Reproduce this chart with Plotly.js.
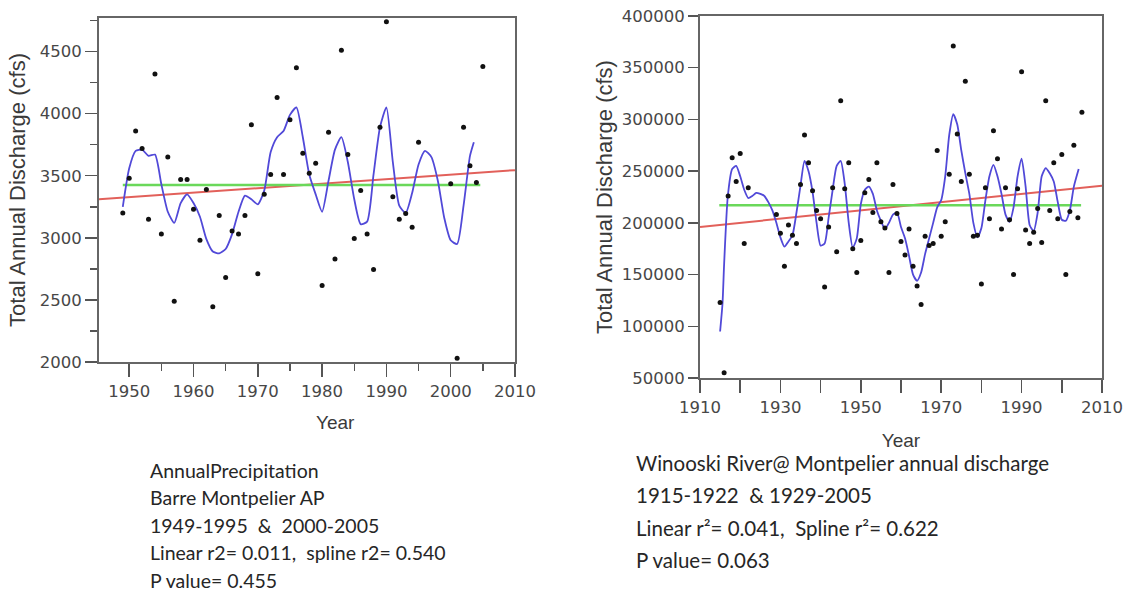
<!DOCTYPE html>
<html>
<head>
<meta charset="utf-8">
<script src="https://cdn.plot.ly/plotly-3.0.1.min.js"></script>
<style>html,body{margin:0;padding:0;background:#fff;}#chart{width:1127px;height:592px;}</style>
</head>
<body>
<div id="chart"></div>
<script>
// ---------- Left chart: Annual Precipitation, Barre Montpelier AP ----------
const precipYears = [1949,1950,1951,1952,1953,1954,1955,1956,1957,1958,1959,1960,1961,1962,1963,1964,1965,1966,1967,1968,1969,1970,1971,1972,1973,1974,1975,1976,1977,1978,1979,1980,1981,1982,1983,1984,1985,1986,1987,1988,1989,1990,1991,1992,1993,1994,1995,2000,2001,2002,2003,2004,2005];
const precipValues = [3200,3480,3860,3720,3150,4320,3030,3650,2490,3470,3470,3230,2980,3390,2445,3180,2680,3055,3030,3180,3910,2710,3350,3510,4130,3510,3950,4370,3680,3520,3600,2615,3850,2830,4510,3670,2995,3380,3030,2745,3890,4740,3330,3150,3195,3085,3770,3435,2030,3890,3580,3445,4380];
const precipSplineX = [1949,1950,1951,1952,1953,1954,1955,1956,1957,1958,1959,1960,1961,1962,1963,1964,1965,1966,1967,1968,1969,1970,1971,1972,1973,1974,1975,1976,1977,1978,1979,1980,1981,1982,1983,1984,1985,1986,1987,1988,1989,1990,1991,1992,1993,1994,1995,1996,1997,1998,1999,2000,2001,2002,2003,2003.6];
const precipSplineY = [3250,3560,3700,3710,3660,3670,3430,3210,3120,3280,3350,3280,3170,2990,2890,2875,2910,3030,3210,3340,3310,3270,3380,3690,3810,3860,3990,4050,3810,3510,3350,3210,3460,3710,3810,3610,3310,3110,3130,3510,3890,4050,3610,3260,3200,3360,3590,3700,3650,3460,3160,2980,2950,3260,3660,3770];
const precipTrendX = [1945.3, 2010];
const precipTrendY = [3310, 3545];
const precipMeanX = [1949, 2004.6];
const precipMeanY = [3425, 3425];
const precipXTicks = [1950,1960,1970,1980,1990,2000,2010];
const precipYTicks = [2000,2500,3000,3500,4000,4500];

// ---------- Right chart: Winooski River @ Montpelier ----------
const flowYears = [1915,1916,1917,1918,1919,1920,1921,1922,1929,1930,1931,1932,1933,1934,1935,1936,1937,1938,1939,1940,1941,1942,1943,1944,1945,1946,1947,1948,1949,1950,1951,1952,1953,1954,1955,1956,1957,1958,1959,1960,1961,1962,1963,1964,1965,1966,1967,1968,1969,1970,1971,1972,1973,1974,1975,1976,1977,1978,1979,1980,1981,1982,1983,1984,1985,1986,1987,1988,1989,1990,1991,1992,1993,1994,1995,1996,1997,1998,1999,2000,2001,2002,2003,2004,2005];
const flowValues = [123000,55000,226000,263000,240000,267000,180000,234000,208000,190000,158000,198000,188000,180000,237000,285000,258000,231000,212000,204000,138000,196000,234000,172000,318000,233000,258000,175000,152000,183000,229000,242000,210000,258000,201000,195000,152000,237000,209000,182000,169000,194000,158000,139000,121000,187000,178000,180000,270000,187000,201000,247000,371000,286000,240000,337000,247000,187000,188000,141000,234000,204000,289000,262000,194000,234000,203000,150000,233000,346000,193000,180000,191000,214000,181000,318000,212000,258000,204000,266000,150000,211000,275000,205000,307000];
const flowSplineX = [1915,1915.6,1916,1916.9,1918,1919,1920,1921,1922,1923,1924,1925,1926,1927,1928,1929,1930,1931,1932,1933,1934,1935,1936,1937,1938,1939,1940,1941,1942,1943,1944,1945,1946,1947,1948,1949,1950,1951,1952,1953,1954,1955,1956,1957,1958,1959,1960,1961,1962,1963,1964,1965,1966,1967,1968,1969,1970,1971,1972,1973,1974,1975,1976,1977,1978,1979,1980,1981,1982,1983,1984,1985,1986,1987,1988,1989,1990,1991,1992,1993,1994,1995,1996,1997,1998,1999,2000,2001,2002,2003,2004.2];
const flowSplineY = [95000,122000,160000,225000,252000,255000,245000,232000,224000,226000,229000,228000,226000,220000,212000,200000,186000,177000,182000,188000,210000,236000,260000,250000,230000,200000,178000,180000,205000,232000,255000,260000,238000,200000,176000,185000,218000,232000,235000,228000,212000,202000,194000,200000,208000,210000,196000,185000,168000,150000,144000,152000,170000,185000,200000,215000,222000,245000,285000,305000,295000,270000,248000,228000,200000,186000,195000,222000,245000,256000,245000,228000,208000,201000,215000,245000,262000,235000,198000,192000,210000,245000,253000,248000,240000,220000,203000,202000,212000,235000,252000];
const flowTrendX = [1910, 2010];
const flowTrendY = [196000, 236000];
const flowMeanX = [1914.8, 2004.8];
const flowMeanY = [217000, 217000];
const flowXTicks = [1910,1920,1930,1940,1950,1960,1970,1980,1990,2000,2010];
const flowXTickText = ['1910','','1930','','1950','','1970','','1990','','2010'];
const flowYTicks = [50000,100000,150000,200000,250000,300000,350000,400000];

// ---------- Notes ----------
const leftNotes = ['AnnualPrecipitation','Barre Montpelier AP','1949-1995  &  2000-2005','Linear r2= 0.011,  spline r2= 0.540','P value= 0.455'];
const rightNotes = ['Winooski River@ Montpelier annual discharge','1915-1922  & 1929-2005','Linear r\u00b2= 0.041,  Spline r\u00b2= 0.622','P value= 0.063'];

const W = 1127, H = 592;
const px = x => x / W;
const py = y => 1 - y / H;

const blue = '#5149d8', red = '#e2605a', green = '#6ad85a';

const traces = [
  {x: precipTrendX, y: precipTrendY, type:'scatter', mode:'lines', line:{color:red, width:2}, xaxis:'x', yaxis:'y', hoverinfo:'skip'},
  {x: precipMeanX, y: precipMeanY, type:'scatter', mode:'lines', line:{color:green, width:2.5}, xaxis:'x', yaxis:'y', hoverinfo:'skip'},
  {x: precipSplineX, y: precipSplineY, type:'scatter', mode:'lines', line:{color:blue, width:1.8, shape:'spline', smoothing:0.6}, xaxis:'x', yaxis:'y'},
  {x: precipYears, y: precipValues, type:'scatter', mode:'markers', marker:{color:'#111', size:5}, xaxis:'x', yaxis:'y'},
  {x: flowTrendX, y: flowTrendY, type:'scatter', mode:'lines', line:{color:red, width:2}, xaxis:'x2', yaxis:'y2', hoverinfo:'skip'},
  {x: flowMeanX, y: flowMeanY, type:'scatter', mode:'lines', line:{color:green, width:2.5}, xaxis:'x2', yaxis:'y2', hoverinfo:'skip'},
  {x: flowSplineX, y: flowSplineY, type:'scatter', mode:'lines', line:{color:blue, width:1.8, shape:'spline', smoothing:0.6}, xaxis:'x2', yaxis:'y2'},
  {x: flowYears, y: flowValues, type:'scatter', mode:'markers', marker:{color:'#111', size:5}, xaxis:'x2', yaxis:'y2'}
];

const tickFont = {family:'DejaVu Sans', size:16.5, color:'#474747'};
const titleFont = {family:'Liberation Sans, Arial', size:19, color:'#3a3a3a'};
const ytitleFont = {family:'Liberation Sans, Arial', size:22, color:'#3a3a3a'};
const axisCommon = {showline:true, mirror:true, linecolor:'#666', linewidth:2, ticks:'outside', tickcolor:'#555', tickwidth:1.5, showgrid:false, zeroline:false, tickfont:tickFont, fixedrange:true};

const annotations = [];
leftNotes.forEach((t,i) => annotations.push({xref:'paper', yref:'paper', x:px(148), y:py(470 + i*27.5), xanchor:'left', yanchor:'middle', showarrow:false, text:t, font:{family:'Lato', size:19.5, color:'#262626'}}));
rightNotes.forEach((t,i) => annotations.push({xref:'paper', yref:'paper', x:px(634), y:py(463 + i*32.3), xanchor:'left', yanchor:'middle', showarrow:false, text:t, font:{family:'Lato', size:20.5, color:'#262626'}}));
// left x-axis title (placed off-centre as in the original)
annotations.push({xref:'paper', yref:'paper', x:px(335), y:py(422), xanchor:'center', yanchor:'middle', showarrow:false, text:'Year', font:titleFont});

const layout = {
  width: W, height: H,
  margin:{l:0, r:0, t:0, b:0},
  paper_bgcolor:'#fff', plot_bgcolor:'#fff',
  showlegend:false,
  xaxis: Object.assign({}, axisCommon, {domain:[px(99), px(515)], range:[1945.3, 2010], tickmode:'array', tickvals:precipXTicks, ticklen:13, minor:{dtick:5, tick0:1945, ticklen:7, ticks:'outside', tickcolor:'#555', tickwidth:1.5}, anchor:'y'}),
  yaxis: Object.assign({}, axisCommon, {domain:[py(362), py(18)], range:[2000, 4770], tickmode:'array', tickvals:precipYTicks, ticklen:12, minor:{dtick:250, tick0:2000, ticklen:7, ticks:'outside', tickcolor:'#555', tickwidth:1.5}, title:{text:'Total Annual Discharge (cfs)', font:ytitleFont, standoff:8}, anchor:'x'}),
  xaxis2: Object.assign({}, axisCommon, {domain:[px(700), px(1102)], range:[1910, 2010], tickmode:'array', tickvals:flowXTicks, ticktext:flowXTickText, ticklen:13, title:{text:'Year', font:titleFont, standoff:18}, anchor:'y2'}),
  yaxis2: Object.assign({}, axisCommon, {domain:[py(378), py(16)], range:[50000, 400000], tickmode:'array', tickvals:flowYTicks, tickformat:'d', ticklen:10, title:{text:'Total Annual Discharge (cfs)', font:ytitleFont, standoff:3}, anchor:'x2'}),
  annotations: annotations
};

Plotly.newPlot('chart', traces, layout, {staticPlot:true, displayModeBar:false});
</script>
</body>
</html>
